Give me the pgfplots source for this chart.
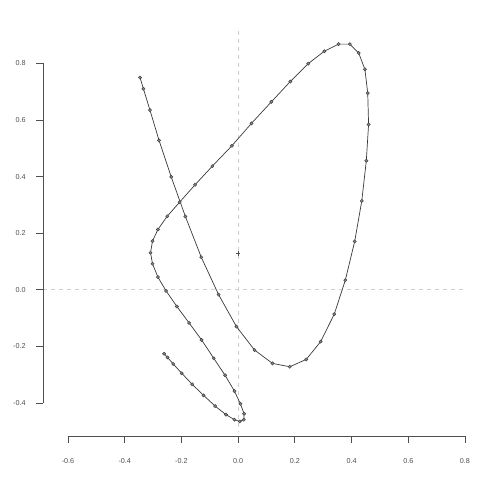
\documentclass[border=0pt]{standalone}
\usepackage{pgfplots}
\pgfplotsset{compat=1.18}
\usepackage{fontspec}
\setmainfont{Liberation Sans}
\definecolor{axgray}{HTML}{505050}
\definecolor{dashgray}{HTML}{D0D0D0}
\definecolor{linegray}{HTML}{383838}
\definecolor{ptfill}{HTML}{8A8A8A}
\definecolor{ptdraw}{HTML}{404040}
\begin{document}
\begin{tikzpicture}
\useasboundingbox (0,0) rectangle (480pt,480pt);
\begin{axis}[
  at={(68pt,77pt)}, anchor=south west,
  scale only axis, width=397pt, height=339.6pt,
  xmin=-0.6, xmax=0.8, ymin=-0.4, ymax=0.8,
  hide axis, clip=false,
]
% reference lines
\draw[dashgray, line width=0.8pt, dash pattern=on 4pt off 4pt] (axis cs:0,0.916) -- (axis cs:0,-0.504);
\draw[dashgray, line width=0.8pt, dash pattern=on 4pt off 4pt] (axis cs:-0.688,0) -- (axis cs:0.800,0);
% x axis
\draw[axgray, line width=0.9pt] (axis cs:-0.6,-0.518) -- (axis cs:0.8,-0.518);
\pgfplotsinvokeforeach{-0.6,-0.4,-0.2,0.0,0.2,0.4,0.6,0.8}{
  \draw[axgray, line width=0.9pt] (axis cs:#1,-0.518) -- (axis cs:#1,-0.5427);
}
\node[font=\fontsize{7.2}{8}\selectfont, text=axgray] at (axis cs:-0.6,-0.604) {-0.6};
\node[font=\fontsize{7.2}{8}\selectfont, text=axgray] at (axis cs:-0.4,-0.604) {-0.4};
\node[font=\fontsize{7.2}{8}\selectfont, text=axgray] at (axis cs:-0.2,-0.604) {-0.2};
\node[font=\fontsize{7.2}{8}\selectfont, text=axgray] at (axis cs:0.0,-0.604) {0.0};
\node[font=\fontsize{7.2}{8}\selectfont, text=axgray] at (axis cs:0.2,-0.604) {0.2};
\node[font=\fontsize{7.2}{8}\selectfont, text=axgray] at (axis cs:0.4,-0.604) {0.4};
\node[font=\fontsize{7.2}{8}\selectfont, text=axgray] at (axis cs:0.6,-0.604) {0.6};
\node[font=\fontsize{7.2}{8}\selectfont, text=axgray] at (axis cs:0.8,-0.604) {0.8};
% y axis
\draw[axgray, line width=0.9pt] (axis cs:-0.6876,-0.4) -- (axis cs:-0.6876,0.8);
\pgfplotsinvokeforeach{-0.4,-0.2,0.0,0.2,0.4,0.6,0.8}{
  \draw[axgray, line width=0.9pt] (axis cs:-0.6876,#1) -- (axis cs:-0.7123,#1);
}
\node[font=\fontsize{7.2}{8}\selectfont, text=axgray, anchor=east] at (axis cs:-0.737,-0.4) {-0.4};
\node[font=\fontsize{7.2}{8}\selectfont, text=axgray, anchor=east] at (axis cs:-0.737,-0.2) {-0.2};
\node[font=\fontsize{7.2}{8}\selectfont, text=axgray, anchor=east] at (axis cs:-0.737,0.0) {0.0};
\node[font=\fontsize{7.2}{8}\selectfont, text=axgray, anchor=east] at (axis cs:-0.737,0.2) {0.2};
\node[font=\fontsize{7.2}{8}\selectfont, text=axgray, anchor=east] at (axis cs:-0.737,0.4) {0.4};
\node[font=\fontsize{7.2}{8}\selectfont, text=axgray, anchor=east] at (axis cs:-0.737,0.6) {0.6};
\node[font=\fontsize{7.2}{8}\selectfont, text=axgray, anchor=east] at (axis cs:-0.737,0.8) {0.8};
% centre marker
\addplot[only marks, mark=+, mark size=2.2pt, mark options={draw=axgray, line width=0.5pt}] coordinates {(0,0.128)};
% curve
\addplot[linegray, line width=0.7pt, mark=*, mark size=1.6pt,
  mark options={fill=ptfill, draw=ptdraw, line width=0.5pt}] coordinates {
(-0.346,0.750)
(-0.334,0.710)
(-0.311,0.635)
(-0.279,0.528)
(-0.236,0.399)
(-0.186,0.259)
(-0.130,0.115)
(-0.069,-0.017)
(-0.006,-0.130)
(0.058,-0.213)
(0.121,-0.260)
(0.182,-0.272)
(0.240,-0.246)
(0.291,-0.183)
(0.339,-0.086)
(0.378,0.034)
(0.411,0.171)
(0.436,0.314)
(0.452,0.456)
(0.460,0.584)
(0.457,0.695)
(0.447,0.779)
(0.425,0.837)
(0.394,0.868)
(0.354,0.868)
(0.304,0.843)
(0.247,0.799)
(0.184,0.736)
(0.117,0.664)
(0.047,0.588)
(-0.022,0.509)
(-0.091,0.437)
(-0.152,0.371)
(-0.206,0.310)
(-0.250,0.260)
(-0.283,0.213)
(-0.302,0.172)
(-0.309,0.131)
(-0.302,0.092)
(-0.283,0.045)
(-0.254,-0.004)
(-0.216,-0.059)
(-0.173,-0.117)
(-0.129,-0.177)
(-0.086,-0.242)
(-0.046,-0.302)
(-0.013,-0.358)
(0.008,-0.403)
(0.021,-0.438)
(0.020,-0.459)
(0.006,-0.465)
(-0.013,-0.459)
(-0.043,-0.441)
(-0.081,-0.411)
(-0.122,-0.373)
(-0.162,-0.334)
(-0.199,-0.295)
(-0.229,-0.262)
(-0.249,-0.239)
(-0.261,-0.226)
};
\end{axis}
\end{tikzpicture}
\end{document}
